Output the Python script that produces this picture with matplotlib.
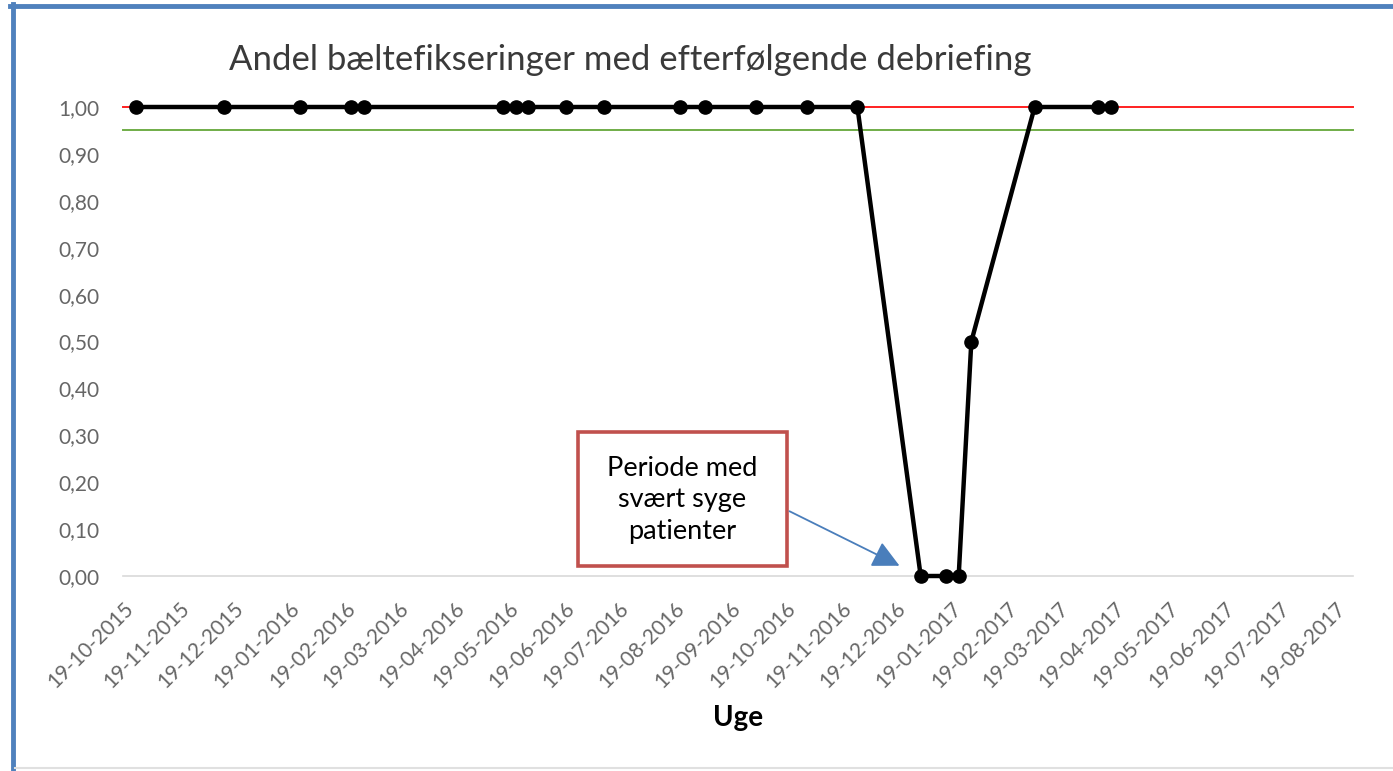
import datetime as dt
import matplotlib
matplotlib.use("Agg")
from matplotlib import pyplot as plt
import matplotlib.dates as mdates
from matplotlib.patches import Rectangle, FancyArrowPatch
from matplotlib.lines import Line2D
from matplotlib.ticker import FuncFormatter

plt.rcParams['font.family'] = ['Lato', 'DejaVu Sans']

# data: ugens dato og andel med debriefing
uge_datoer = ["2015-10-26", "2015-12-14", "2016-01-25", "2016-02-22", "2016-02-29",
              "2016-05-16", "2016-05-23", "2016-05-30", "2016-06-20", "2016-07-11",
              "2016-08-22", "2016-09-05", "2016-10-03", "2016-10-31", "2016-11-28",
              "2017-01-02", "2017-01-16", "2017-01-23", "2017-01-30", "2017-03-06",
              "2017-04-10", "2017-04-17"]
andel = [1.0, 1.0, 1.0, 1.0, 1.0,
         1.0, 1.0, 1.0, 1.0, 1.0,
         1.0, 1.0, 1.0, 1.0, 1.0,
         0.0, 0.0, 0.0, 0.5, 1.0,
         1.0, 1.0]
maal_roed = 1.0
maal_groen = 0.95
x_start = "2015-10-19"
x_slut = "2017-08-29"
y_ticks = [0.0, 0.1, 0.2, 0.3, 0.4, 0.5, 0.6, 0.7, 0.8, 0.9, 1.0]

titel = "Andel bæltefikseringer med efterfølgende debriefing"
x_label = "Uge"
boks_tekst = "Periode med\nsvært syge\npatienter"

datoer = [dt.datetime.strptime(d, "%Y-%m-%d") for d in uge_datoer]
d0 = dt.datetime.strptime(x_start, "%Y-%m-%d")
d1 = dt.datetime.strptime(x_slut, "%Y-%m-%d")

W, H = 1393, 771
fig = plt.figure(figsize=(W / 100, H / 100), dpi=100)
ax = fig.add_axes([123 / W, 1 - 576 / H, (1353 - 123) / W, (576 - 107) / H])

ax.plot([d0, d1], [maal_roed, maal_roed], color='#FF2020', lw=1.4, zorder=2, clip_on=False)
ax.plot([d0, d1], [maal_groen, maal_groen], color='#70AD47', lw=1.4, zorder=2, clip_on=False)
ax.plot(datoer, andel, color='black', lw=3.2, marker='o', markersize=9.5,
        zorder=4, clip_on=False)

ax.set_xlim(d0, d1)
ax.set_ylim(0, 1)
ax.set_yticks(y_ticks)
ax.yaxis.set_major_formatter(FuncFormatter(lambda v, p: ("%.2f" % v).replace('.', ',')))
ax.xaxis.set_major_locator(mdates.MonthLocator(bymonthday=19))
ax.xaxis.set_major_formatter(mdates.DateFormatter('%d-%m-%Y'))
ax.tick_params(axis='both', length=0, colors='#666666', labelsize=15)
ax.tick_params(axis='y', pad=17)
ax.tick_params(axis='x', pad=16)
for lab in ax.get_xticklabels():
    lab.set_rotation(45)
    lab.set_ha('right')
    lab.set_rotation_mode('anchor')
for s in ['top', 'right', 'left']:
    ax.spines[s].set_visible(False)
ax.spines['bottom'].set_color('#D9D9D9')
ax.spines['bottom'].set_linewidth(1.2)

fig.text(630 / W, 1 - 60 / H, titel, ha='center', va='center', fontsize=25, color='#3a3a3a')
fig.text(738 / W, 1 - 718 / H, x_label, ha='center', va='center', fontsize=20,
         fontweight='bold', color='black')

# tekstboks med pil
fig.patches.append(Rectangle((578 / W, 1 - 566 / H), 209 / W, 134 / H, transform=fig.transFigure,
                             facecolor='white', edgecolor='#C0504D', lw=2.6, zorder=5))
fig.text(682 / W, 1 - 500 / H, boks_tekst, ha='center', va='center', fontsize=19.5,
         linespacing=1.3, color='black', zorder=6)
fig.patches.append(FancyArrowPatch((787 / W, 1 - 510 / H), (902 / W, 1 - 567 / H),
                                   transform=fig.transFigure, arrowstyle='-|>,head_length=11,head_width=5.5',
                                   color='#4A7EBB', lw=1.3, mutation_scale=1.5, zorder=5))

# ramme
fig.lines.append(Line2D([10 / W, 1], [1 - 6 / H, 1 - 6 / H], transform=fig.transFigure,
                        color='#4F81BD', lw=3.5))
fig.lines.append(Line2D([12.5 / W, 12.5 / W], [0, 1 - 4 / H], transform=fig.transFigure,
                        color='#4F81BD', lw=3.5))
fig.lines.append(Line2D([15 / W, 1], [1 - 768 / H, 1 - 768 / H], transform=fig.transFigure,
                        color='#E0E0E0', lw=1.5))

fig.savefig("out.png", dpi=100)
